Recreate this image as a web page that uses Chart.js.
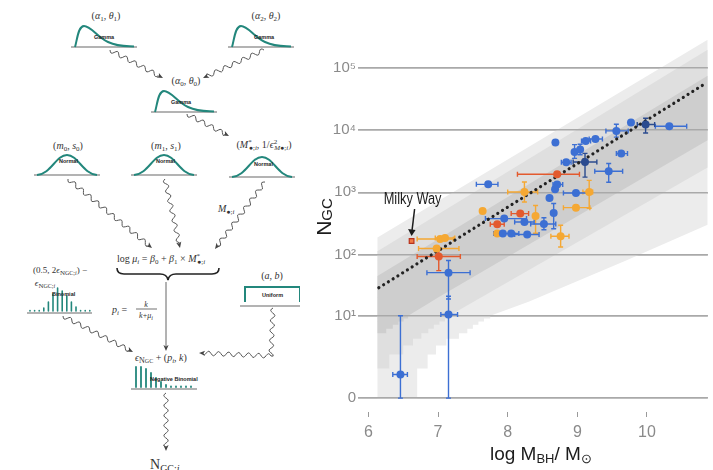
<!DOCTYPE html>
<html>
<head>
<meta charset="utf-8">
<title>Globular clusters vs black hole mass</title>
<script src="https://cdn.jsdelivr.net/npm/chart.js@4.4.1/dist/chart.umd.min.js"></script>
<style>
  html, body { margin: 0; padding: 0; background: #fff; width: 713px; height: 470px; overflow: hidden; }
  #diagram { position: absolute; left: 0; top: 0; }
  #plot { position: absolute; left: 300px; top: 0; width: 413px; height: 470px; }
</style>
</head>
<body>
<svg id="diagram" width="300" height="470" viewBox="0 0 300 470" font-family="'Liberation Serif', 'DejaVu Serif', serif" fill="#333" font-size="10">
  <g id="shapes"></g>
  <!-- hyper-priors -->
  <text x="106" y="19" text-anchor="middle">(<tspan font-style="italic">α</tspan><tspan dy="2" font-size="7">1</tspan><tspan dy="-2">, </tspan><tspan font-style="italic">θ</tspan><tspan dy="2" font-size="7">1</tspan><tspan dy="-2">)</tspan></text>
  <text x="266" y="19" text-anchor="middle">(<tspan font-style="italic">α</tspan><tspan dy="2" font-size="7">2</tspan><tspan dy="-2">, </tspan><tspan font-style="italic">θ</tspan><tspan dy="2" font-size="7">2</tspan><tspan dy="-2">)</tspan></text>
  <text x="186" y="84" text-anchor="middle">(<tspan font-style="italic">α</tspan><tspan dy="2" font-size="7">0</tspan><tspan dy="-2">, </tspan><tspan font-style="italic">θ</tspan><tspan dy="2" font-size="7">0</tspan><tspan dy="-2">)</tspan></text>
  <text x="68" y="149" text-anchor="middle">(<tspan font-style="italic">m</tspan><tspan dy="2" font-size="7">0</tspan><tspan dy="-2">, </tspan><tspan font-style="italic">s</tspan><tspan dy="2" font-size="7">0</tspan><tspan dy="-2">)</tspan></text>
  <text x="166" y="149" text-anchor="middle">(<tspan font-style="italic">m</tspan><tspan dy="2" font-size="7">1</tspan><tspan dy="-2">, </tspan><tspan font-style="italic">s</tspan><tspan dy="2" font-size="7">1</tspan><tspan dy="-2">)</tspan></text>
  <text x="264" y="148" text-anchor="middle">(<tspan font-style="italic">M</tspan><tspan dy="-4" font-size="7">*</tspan><tspan dx="-3" dy="6" font-size="7">●;<tspan font-style="italic">i</tspan></tspan><tspan dy="-2">, 1/</tspan><tspan font-style="italic">ϵ</tspan><tspan dy="-4" font-size="7">2</tspan><tspan dx="-3" dy="6" font-size="7"><tspan font-style="italic">M</tspan>●;<tspan font-style="italic">i</tspan></tspan><tspan dy="-2">)</tspan></text>
  <text x="218" y="212" font-style="italic">M<tspan dy="2" font-size="7" font-style="normal">●;<tspan font-style="italic">i</tspan></tspan></text>
  <!-- linear predictor -->
  <text x="117" y="262">log <tspan font-style="italic">μ</tspan><tspan dy="2" font-size="7" font-style="italic">i</tspan><tspan dy="-2"> = </tspan><tspan font-style="italic">β</tspan><tspan dy="2" font-size="7">0</tspan><tspan dy="-2"> + </tspan><tspan font-style="italic">β</tspan><tspan dy="2" font-size="7">1</tspan><tspan dy="-2"> × </tspan><tspan font-style="italic">M</tspan><tspan dy="-4" font-size="7">*</tspan><tspan dx="-3" dy="6" font-size="7">●;<tspan font-style="italic">i</tspan></tspan></text>
  <!-- measurement error prior -->
  <text x="60" y="273" text-anchor="middle" font-size="9">(0.5, 2<tspan font-style="italic">ϵ</tspan><tspan dy="2" font-size="7">N</tspan><tspan font-size="6">GC;</tspan><tspan font-size="6" font-style="italic">i</tspan><tspan dy="-2">) −</tspan></text>
  <text x="45" y="286" text-anchor="middle" font-size="9"><tspan font-style="italic">ϵ</tspan><tspan dy="2" font-size="7">N</tspan><tspan font-size="6">GC;</tspan><tspan font-size="6" font-style="italic">i</tspan></text>
  <text x="112" y="313" font-style="italic">p<tspan dy="2" font-size="7">i</tspan><tspan dy="-2" font-style="normal"> =</tspan></text>
  <text x="146" y="307" text-anchor="middle" font-style="italic" font-size="8">k</text>
  <text x="146" y="318" text-anchor="middle" font-style="italic" font-size="8">k<tspan font-style="normal">+</tspan>μ<tspan dy="1.5" font-size="6">i</tspan></text>
  <text x="272" y="279" text-anchor="middle">(<tspan font-style="italic">a</tspan>, <tspan font-style="italic">b</tspan>)</text>
  <text x="135" y="361" font-size="10"><tspan font-style="italic">ϵ</tspan><tspan dy="2" font-size="8">N</tspan><tspan font-size="6">GC</tspan><tspan dy="-2"> + (</tspan><tspan font-style="italic">p</tspan><tspan dy="2" font-size="7" font-style="italic">i</tspan><tspan dy="-2">, </tspan><tspan font-style="italic">k</tspan>)</text>
  <text x="150" y="469" font-size="14">N<tspan dy="3" font-size="10">GC;</tspan><tspan font-size="10" font-style="italic">i</tspan></text>
  <g font-family="'Liberation Sans', Arial, sans-serif" font-weight="bold" fill="#222" font-size="5.5">
    <text x="94" y="39">Gamma</text>
    <text x="254" y="39">Gamma</text>
    <text x="171" y="104">Gamma</text>
    <text x="59" y="163">Normal</text>
    <text x="156" y="163">Normal</text>
    <text x="254" y="166">Normal</text>
    <text x="52" y="296">Binomial</text>
    <text x="262" y="297">Uniform</text>
    <text x="150" y="381">Negative Binomial</text>
  </g>
</svg>
<div id="plot"><canvas id="chart" width="413" height="470"></canvas></div>

<script>
// ---------------- data ----------------
const xTicks = [6, 7, 8, 9, 10];
const yTicks = [0, 10, 100, 1000, 10000, 100000];
const yTickLabels = ['0', '10¹', '10²', '10³', '10⁴', '10⁵'];

// rows: [log M_BH, log M_BH low, log M_BH high, N_GC, N_GC low, N_GC high]
const blueGalaxies = [
  [6.46, 6.35, 6.56, 0.7, 0, 10],
  [7.15, 7.04, 7.28, 10.5, 0, 21],
  [7.15, 6.84, 7.46, 51, 19, 80],
  [7.72, 7.55, 7.86, 1340, 1170, 1530],
  [7.95, 7.68, 8.27, 378, 340, 420],
  [7.93, 7.80, 8.06, 217, 195, 242],
  [8.05, 7.95, 8.16, 218, 196, 243],
  [8.24, 8.10, 8.38, 333, 300, 370],
  [8.28, 8.10, 8.45, 210, 188, 235],
  [8.52, 8.33, 8.69, 310, 250, 390],
  [8.66, 8.62, 8.71, 465, 260, 660],
  [8.60, 8.55, 8.65, 810, 700, 940],
  [8.68, 8.63, 8.73, 1120, 980, 1280],
  [8.71, 8.65, 8.79, 1330, 1170, 1510],
  [8.98, 8.80, 9.16, 975, 880, 1080],
  [9.45, 9.25, 9.65, 2170, 1450, 2900],
  [8.84, 8.77, 8.91, 3020, 2700, 3400],
  [8.96, 8.92, 9.00, 4430, 3500, 5800],
  [9.04, 8.99, 9.10, 4840, 4000, 5900],
  [9.63, 9.56, 9.72, 4170, 3800, 4600],
  [8.685, 8.63, 8.74, 6280, 5700, 6900],
  [9.12, 9.06, 9.19, 6650, 6100, 7300],
  [9.26, 9.17, 9.36, 7170, 6500, 7900],
  [9.56, 9.41, 9.73, 9640, 7650, 12300],
  [9.77, 9.74, 9.80, 13150, 11600, 14600],
  [10.32, 10.12, 10.57, 11470, 10300, 12800]
];
const navyGalaxies = [
  [9.11, 8.94, 9.28, 3060, 1750, 4200],
  [9.98, 9.86, 10.11, 12200, 8900, 15400]
];
const orangeGalaxies = [
  [6.98, 6.72, 7.30, 125, 110, 140],
  [7.03, 6.70, 7.22, 178, 152, 205],
  [7.10, 6.96, 7.24, 185, 165, 212],
  [7.64, 7.64, 7.64, 500, 500, 500],
  [7.85, 7.80, 7.90, 217, 200, 235],
  [8.24, 8.00, 8.43, 1010, 700, 1460],
  [8.40, 8.36, 8.44, 417, 220, 615],
  [8.76, 8.62, 8.88, 197, 132, 295],
  [8.98, 8.80, 9.18, 567, 510, 630],
  [9.17, 9.08, 9.22, 1010, 553, 1550]
];
const redGalaxies = [
  [7.01, 6.70, 7.32, 93, 55, 118],
  [7.85, 7.75, 7.95, 306, 270, 345],
  [8.18, 8.05, 8.30, 455, 400, 515],
  [8.71, 8.14, 9.03, 1950, 1800, 2100]
];
const milkyWay = [6.62, 165];

// fitted relation (end points)
const fitX = [6.15, 10.8];
const fitN = [29, 52100];

// predictive bands, outlines as [log M_BH, N_GC]
const bandOuter = [
  [6.13, 188], [10.87, 278000], [10.87, 300], [9.7, 80], [8.3, 17], [7.75, 10], [7.75, 9],
  [7.66, 9], [7.66, 8], [7.58, 8], [7.58, 7], [7.5, 7], [7.5, 6], [7.42, 6], [7.42, 5],
  [7.3, 5], [7.3, 4], [7.12, 4], [7.12, 3], [6.97, 3], [6.97, 2], [6.85, 2], [6.85, 1],
  [6.70, 1], [6.70, 0], [6.13, 0]
];
const bandMiddle = [
  [6.13, 113], [10.87, 193000], [10.87, 2500], [7.16, 10], [7.16, 9], [7.1, 9], [7.1, 8],
  [7.02, 8], [7.02, 7], [6.94, 7], [6.94, 6], [6.86, 6], [6.86, 5], [6.76, 5], [6.76, 4],
  [6.64, 4], [6.64, 3], [6.5, 3], [6.5, 2], [6.3, 2], [6.3, 1], [6.13, 1]
];
const bandInner = [
  [6.13, 45], [10.87, 74000], [10.87, 6800], [7.0, 20], [6.82, 15], [6.683, 12],
  [6.57, 10], [6.57, 9], [6.505, 9], [6.505, 8], [6.432, 8], [6.432, 7], [6.35, 7],
  [6.35, 6], [6.256, 6], [6.256, 5], [6.13, 5]
];

// ---------------- shifted log axis: log10(N + 0.5) ----------------
const tf = v => Math.log10(v + 0.5);
class ShiftedLogScale extends Chart.Scale {
  static id = 'shiftedLog';
  static defaults = {};
  determineDataLimits() { this.min = this.options.min; this.max = this.options.max; }
  buildTicks() { return this.options.tickValues.map(v => ({ value: v })); }
  configure() {
    super.configure();
    this._t0 = tf(this.min);
    this._t1 = tf(this.max);
  }
  getPixelForValue(v) {
    return this.getPixelForDecimal((tf(v) - this._t0) / (this._t1 - this._t0));
  }
  getValueForPixel(p) {
    const d = this.getDecimalForPixel(p);
    return Math.pow(10, this._t0 + d * (this._t1 - this._t0)) - 0.5;
  }
  getLabelForValue(v) { return String(v); }
}
Chart.register(ShiftedLogScale);

const toPts = rows => rows.map(r => ({ x: r[0], y: r[3] }));
const toPoly = rows => rows.map(r => ({ x: r[0], y: r[1] }));

const BLUE = '#3c6fd3', NAVY = '#2b4b8f', ORANGE = '#f5a833', RED = '#e35a2e';

function band(rows, color, order, last) {
  return {
    type: 'line', data: toPoly(rows), order, isLastBand: !!last,
    backgroundColor: color, borderWidth: 0, pointRadius: 0, fill: 'shape', tension: 0
  };
}
function pts(rows, color, order) {
  return {
    type: 'scatter', data: toPts(rows), rows, order, errColor: color,
    backgroundColor: color, borderColor: color, borderWidth: 0, pointRadius: 4
  };
}

// grid redrawn over the bands, then error bars under the markers
const overlays = {
  id: 'overlays',
  afterDatasetDraw(chart, args) {
    const ds = chart.data.datasets[args.index];
    if (!ds.isLastBand) return;
    const { ctx, chartArea, scales: { x, y } } = chart;
    y.drawGrid(chartArea);
    ctx.save();
    ctx.lineWidth = 1.4;
    chart.data.datasets.forEach(d => {
      if (!d.rows) return;
      ctx.strokeStyle = d.errColor;
      d.rows.forEach(r => {
        const px = x.getPixelForValue(r[0]), py = y.getPixelForValue(r[3]);
        const xl = x.getPixelForValue(r[1]), xh = x.getPixelForValue(r[2]);
        const yl = y.getPixelForValue(r[4]), yh = y.getPixelForValue(r[5]);
        ctx.beginPath();
        if (xh - xl > 9) {
          ctx.moveTo(xl, py); ctx.lineTo(xh, py);
          ctx.moveTo(xl, py - 2.5); ctx.lineTo(xl, py + 2.5);
          ctx.moveTo(xh, py - 2.5); ctx.lineTo(xh, py + 2.5);
        }
        if (yl - yh > 9) {
          ctx.moveTo(px, yl); ctx.lineTo(px, yh);
          ctx.moveTo(px - 2.5, yl); ctx.lineTo(px + 2.5, yl);
          ctx.moveTo(px - 2.5, yh); ctx.lineTo(px + 2.5, yh);
        }
        ctx.stroke();
      });
    });
    ctx.restore();
  }
};

function drawParts(ctx, parts, x, y, align) {
  const fontFor = p => `${p[1]}px 'Liberation Sans', Arial, sans-serif`;
  let total = 0;
  parts.forEach(p => { ctx.font = fontFor(p); total += ctx.measureText(p[0]).width; });
  let cx = align === 'center' ? x - total / 2 : x;
  ctx.textAlign = 'left';
  ctx.textBaseline = 'alphabetic';
  parts.forEach(p => {
    ctx.font = fontFor(p);
    ctx.fillText(p[0], cx, y + (p[2] || 0));
    cx += ctx.measureText(p[0]).width;
  });
}

const labels = {
  id: 'labels',
  afterDraw(chart) {
    const { ctx, chartArea: a, scales: { x, y } } = chart;
    ctx.save();
    ctx.fillStyle = '#1c1c1c';
    // x title
    drawParts(ctx, [['log M', 19], ['BH', 13, 3], ['/ M', 19], ['⊙', 13, 3]], (a.left + a.right) / 2 + 6, 460, 'center');
    // y title
    ctx.save();
    ctx.translate(31, (a.top + a.bottom) / 2 - 4);
    ctx.rotate(-Math.PI / 2);
    drawParts(ctx, [['N', 21], ['GC', 15, 1]], 0, 0, 'center');
    ctx.restore();
    // Milky Way callout
    const mx = x.getPixelForValue(milkyWay[0]), my = y.getPixelForValue(milkyWay[1]);
    ctx.save();
    ctx.translate(mx + 1, my - 37);
    ctx.scale(0.8, 1);
    ctx.font = "16px 'Liberation Sans', Arial, sans-serif";
    ctx.textAlign = 'center';
    ctx.fillText('Milky Way', 0, 0);
    ctx.restore();
    ctx.strokeStyle = '#1c1c1c';
    ctx.lineWidth = 1.5;
    ctx.beginPath();
    ctx.moveTo(mx + 3, my - 32);
    ctx.lineTo(mx + 0.5, my - 11);
    ctx.stroke();
    ctx.beginPath();
    ctx.moveTo(mx - 3.5, my - 12);
    ctx.lineTo(mx + 4, my - 11);
    ctx.lineTo(mx, my - 5);
    ctx.closePath();
    ctx.fill();
    ctx.restore();
  }
};

new Chart(document.getElementById('chart'), {
  type: 'scatter',
  data: {
    datasets: [
      band(bandOuter, '#ececec', 10),
      band(bandMiddle, '#dfdfdf', 9),
      band(bandInner, '#cecece', 8, true),
      {
        type: 'line', data: fitX.map((v, i) => ({ x: v, y: fitN[i] })), order: 5,
        borderColor: '#222', borderWidth: 3.2, borderDash: [0.01, 5.6], borderCapStyle: 'round',
        pointRadius: 0, fill: false, tension: 0
      },
      pts(orangeGalaxies, ORANGE, 3),
      pts(redGalaxies, RED, 2),
      pts(blueGalaxies, BLUE, 1),
      pts(navyGalaxies, NAVY, 1),
      {
        type: 'scatter', data: [{ x: milkyWay[0], y: milkyWay[1] }], order: 0,
        pointStyle: 'rect', pointRadius: 3.3, backgroundColor: '#f07a45', borderColor: '#b8321c', borderWidth: 1.2
      }
    ]
  },
  options: {
    responsive: false,
    animation: false,
    layout: { padding: { top: 30, right: 0, left: 0, bottom: 0 } },
    plugins: { legend: { display: false }, tooltip: { enabled: false } },
    scales: {
      x: {
        type: 'linear', min: 5.908, max: 10.873,
        afterBuildTicks: s => { s.ticks = xTicks.map(v => ({ value: v })); },
        afterFit: s => { s.height = 58; },
        border: { display: false },
        grid: { display: true, drawOnChartArea: false, drawTicks: true, tickLength: 5, color: '#9a9a9a', lineWidth: 1 },
        ticks: { color: '#8a8a8a', padding: 6, font: { family: "'Liberation Sans', Arial, sans-serif", size: 16 }, callback: v => String(v) }
      },
      y: {
        type: 'shiftedLog', min: -0.2, max: 400000, tickValues: yTicks,
        afterFit: s => { s.width = 62; },
        border: { display: false },
        grid: { color: '#a9a9a9', lineWidth: 1.5, tickLength: 4 },
        ticks: {
          color: '#8a8a8a', padding: 2, font: { family: "'Liberation Sans', Arial, sans-serif", size: 15 },
          callback: v => yTickLabels[yTicks.indexOf(v)]
        }
      }
    }
  },
  plugins: [overlays, labels]
});

// ---------------- model diagram shapes ----------------
(function () {
  const NS = 'http://www.w3.org/2000/svg';
  const g = document.getElementById('shapes');
  const TEAL = '#23877c';
  function el(name, attrs) {
    const e = document.createElementNS(NS, name);
    for (const k in attrs) e.setAttribute(k, attrs[k]);
    g.appendChild(e);
    return e;
  }
  function baseLine(x1, x2, yb) { el('line', { x1, y1: yb, x2, y2: yb, stroke: '#9a9a9a', 'stroke-width': 1.3 }); }
  function gamma(x0, yb) {
    baseLine(x0 - 4, x0 + 62, yb);
    el('path', { d: `M${x0},${yb} C${x0 + 2},${yb - 6} ${x0 + 3},${yb - 21} ${x0 + 9},${yb - 21} C${x0 + 16},${yb - 21} ${x0 + 22},${yb - 10} ${x0 + 33},${yb - 5} S${x0 + 52},${yb - 1} ${x0 + 59},${yb - 0.5}`, fill: 'none', stroke: TEAL, 'stroke-width': 2 });
  }
  function normal(cx, yb) {
    baseLine(cx - 33, cx + 33, yb);
    el('path', { d: `M${cx - 30},${yb} C${cx - 16},${yb - 1} ${cx - 11},${yb - 20} ${cx},${yb - 20} C${cx + 11},${yb - 20} ${cx + 16},${yb - 1} ${cx + 30},${yb}`, fill: 'none', stroke: TEAL, 'stroke-width': 2 });
  }
  function bars(x0, step, yb, heights, w) {
    heights.forEach((h, i) => {
      const x = x0 + i * step;
      el('line', { x1: x, y1: yb - 2, x2: x, y2: yb - 2 - h, stroke: TEAL, 'stroke-width': w, 'stroke-linecap': 'round' });
    });
  }
  function squiggle(pts, amp, wl) {
    let d = '';
    let last = null, dir = null;
    for (let k = 0; k < pts.length - 1; k++) {
      const [x1, y1] = pts[k], [x2, y2] = pts[k + 1];
      const dx = x2 - x1, dy = y2 - y1, L = Math.hypot(dx, dy);
      const ux = dx / L, uy = dy / L, nx = -uy, ny = ux;
      const end = k === pts.length - 2 ? L - 5 : L;
      const n = Math.max(2, Math.round(end / 1.2));
      for (let i = 0; i <= n; i++) {
        const s = end * i / n;
        const o = amp * Math.sin(2 * Math.PI * s / wl);
        const px = x1 + ux * s + nx * o, py = y1 + uy * s + ny * o;
        d += (d ? 'L' : 'M') + px.toFixed(1) + ',' + py.toFixed(1);
      }
      last = [x2, y2]; dir = [ux, uy];
    }
    el('path', { d, fill: 'none', stroke: '#555', 'stroke-width': 1 });
    arrowHead(last, dir);
  }
  function arrowHead(p, u) {
    const [x, y] = p, [ux, uy] = u, nx = -uy, ny = ux;
    el('path', { d: `M${x},${y} L${x - ux * 6 + nx * 2.6},${y - uy * 6 + ny * 2.6} L${x - ux * 4.5},${y - uy * 4.5} L${x - ux * 6 - nx * 2.6},${y - uy * 6 - ny * 2.6} Z`, fill: '#444' });
  }

  gamma(75, 47);
  gamma(232, 47);
  gamma(155, 112);
  normal(67, 175);
  normal(164, 175);
  normal(262, 177);

  // uniform prior box
  baseLine(240, 303, 306);
  el('path', { d: 'M245,302 L245,287 L300,287 L300,302', fill: 'none', stroke: TEAL, 'stroke-width': 2 });

  // binomial and negative-binomial bar shapes
  baseLine(27, 92, 313);
  bars(30, 4.6, 313, [0.5, 0.5, 0.5, 3, 9, 17, 23, 20, 15, 9, 4, 0.5, 0.5, 0.5], 1.6);
  baseLine(131, 197, 389);
  bars(136, 5, 389, [20, 20, 18, 14, 9, 5, 2, 0.5, 0.5, 0.5, 0.5, 0.5], 1.8);

  // underbrace
  el('path', { d: 'M117,268 Q117,274 124,274 L160,274 Q167,274 168,280 Q169,274 176,274 L212,274 Q219,274 219,268', fill: 'none', stroke: '#222', 'stroke-width': 1.6 });
  // fraction bar
  el('line', { x1: 136, y1: 309, x2: 157, y2: 309, stroke: '#333', 'stroke-width': 0.7 });
  // straight deterministic link
  el('line', { x1: 166, y1: 282, x2: 166, y2: 346, stroke: '#666', 'stroke-width': 1 });
  arrowHead([166, 351], [0, 1]);

  squiggle([[110, 50], [163, 78]], 2.2, 10);
  squiggle([[264, 50], [203, 78]], 2.2, 10);
  squiggle([[187, 114], [229, 136]], 2.2, 10);
  squiggle([[68, 179], [152, 248]], 2.2, 10);
  squiggle([[165, 179], [180, 248]], 2.2, 10);
  squiggle([[265, 182], [215, 249]], 2.2, 10);
  squiggle([[63, 316], [133, 352]], 2.2, 10);
  squiggle([[273, 308], [271, 356], [199, 353]], 2.2, 10);
  squiggle([[166, 393], [166, 451]], 2.2, 10);
})();
</script>
</body>
</html>
